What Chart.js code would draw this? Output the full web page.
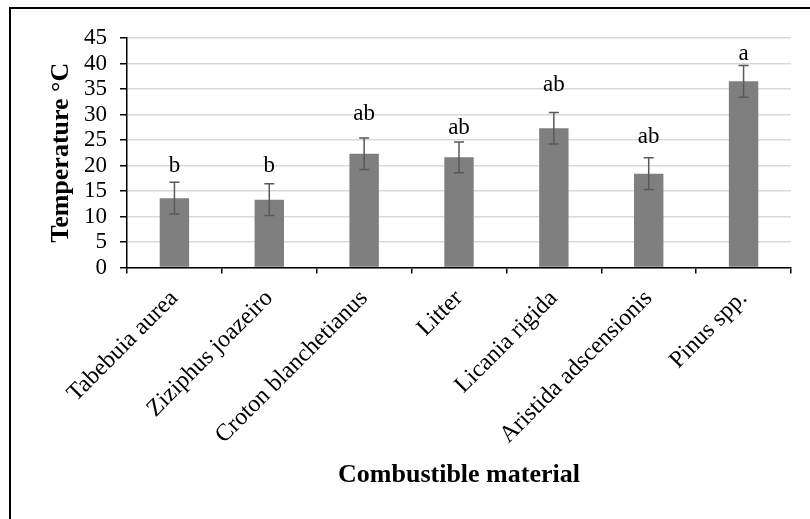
<!DOCTYPE html>
<html>
<head>
<meta charset="utf-8">
<script src="https://cdn.jsdelivr.net/npm/chart.js@4/dist/chart.umd.min.js"></script>
<style>
  html, body { margin: 0; padding: 0; background: #fff; }
  #wrap { position: relative; width: 810px; height: 519px; }
</style>
</head>
<body>
<div id="wrap"><canvas id="c"></canvas></div>
<script>
// Mean fire temperature per fuel type, with its error and Tukey group letter
const materials = ['Tabebuia aurea', 'Ziziphus joazeiro', 'Croton blanchetianus', 'Litter',
                   'Licania rigida', 'Aristida adscensionis', 'Pinus spp.'];
const meanTemp = [13.6, 13.3, 22.3, 21.6, 27.3, 18.4, 36.5];
const tempError = [3.1, 3.1, 3.1, 3.0, 3.1, 3.1, 3.1];
const groupLetters = ['b', 'b', 'ab', 'ab', 'ab', 'ab', 'a'];

// Pixel gap between each error cap and its letter
const letterGap = [10, 11.5, 17.5, 8, 21.5, 15, 6];

const SERIF = '"Liberation Serif", "Times New Roman", serif';

const errorBarsAndLetters = {
  id: 'errorBarsAndLetters',
  afterDatasetsDraw(chart) {
    const { ctx } = chart;
    const y = chart.scales.y;
    const meta = chart.getDatasetMeta(0);
    ctx.save();
    meta.data.forEach((bar, i) => {
      const x = bar.x;
      const hi = y.getPixelForValue(meanTemp[i] + tempError[i]);
      const lo = y.getPixelForValue(meanTemp[i] - tempError[i]);
      ctx.strokeStyle = '#595959';
      ctx.lineWidth = 1.5;
      ctx.beginPath();
      ctx.moveTo(x, hi); ctx.lineTo(x, lo);
      ctx.moveTo(x - 5, hi); ctx.lineTo(x + 5, hi);
      ctx.moveTo(x - 5, lo); ctx.lineTo(x + 5, lo);
      ctx.stroke();
      ctx.fillStyle = '#000';
      ctx.font = '23px ' + SERIF;
      ctx.textAlign = 'center';
      ctx.textBaseline = 'alphabetic';
      ctx.fillText(groupLetters[i], x, hi - letterGap[i]);
    });
    ctx.restore();
  }
};

const frame = {
  id: 'frame',
  afterDraw(chart) {
    const { ctx, width, height } = chart;
    ctx.save();
    ctx.strokeStyle = '#000';
    ctx.lineWidth = 2;
    ctx.beginPath();
    ctx.moveTo(10, height);
    ctx.lineTo(10, 8);
    ctx.lineTo(width, 8);
    ctx.stroke();
    ctx.restore();
  }
};

new Chart(document.getElementById('c'), {
  type: 'bar',
  data: {
    labels: materials,
    datasets: [{
      data: meanTemp,
      backgroundColor: '#7f7f7f',
      borderWidth: 0,
      barPercentage: 1,
      categoryPercentage: 0.31
    }]
  },
  plugins: [errorBarsAndLetters, frame],
  options: {
    responsive: true,
    maintainAspectRatio: false,
    animation: false,
    layout: { padding: { left: 0, top: 38, right: 19, bottom: 0 } },
    plugins: { legend: { display: false }, tooltip: { enabled: false } },
    scales: {
      x: {
        afterFit(scale) { scale.height = 251.5; },
        grid: { drawOnChartArea: false, drawTicks: true, tickLength: 6, tickColor: '#000', lineWidth: 1.5 },
        border: { color: '#000', width: 1.5 },
        ticks: {
          color: '#000',
          font: { family: SERIF, size: 24 },
          minRotation: 45,
          maxRotation: 45,
          autoSkip: false,
          padding: 11
        },
        title: {
          display: true,
          text: 'Combustible material',
          color: '#000',
          font: { family: SERIF, size: 26, weight: 'bold' },
          padding: { top: 0, bottom: 28 }
        }
      },
      y: {
        min: 0,
        max: 45,
        afterFit(scale) { scale.width = 127; },
        grid: { color: '#d9d9d9', lineWidth: 1.5, drawTicks: true, tickLength: 7, tickColor: '#000' },
        border: { color: '#000', width: 1.5 },
        ticks: {
          stepSize: 5,
          autoSkip: false,
          color: '#000',
          font: { family: SERIF, size: 23 },
          padding: 13
        },
        title: {
          display: true,
          text: 'Temperature °C',
          color: '#000',
          font: { family: SERIF, size: 26, weight: 'bold' },
          padding: { top: 46, bottom: 0 }
        }
      }
    }
  }
});
</script>
</body>
</html>
